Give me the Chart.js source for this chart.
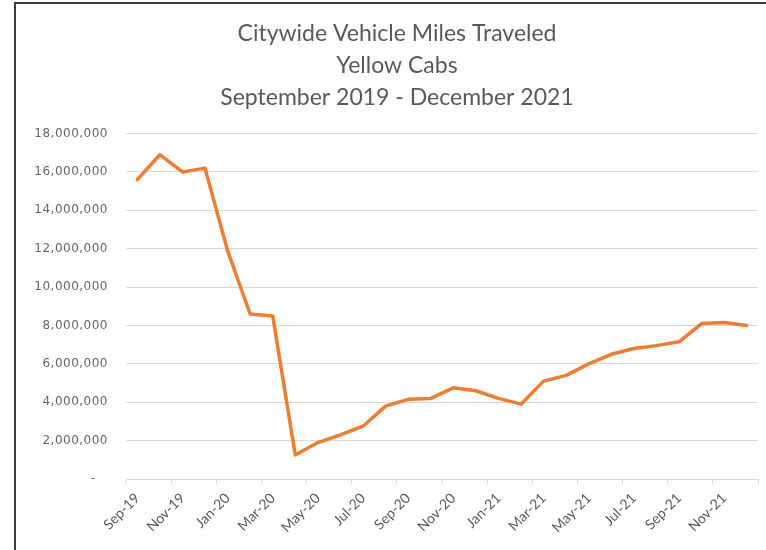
<!DOCTYPE html>
<html>
<head>
<meta charset="utf-8">
<title>Citywide Vehicle Miles Traveled - Yellow Cabs</title>
<script src="https://cdn.jsdelivr.net/npm/chart.js@4"></script>
<style>
    html, body { margin: 0; padding: 0; background: #fff; }
    #frame {
        position: absolute; left: 14px; top: 2px; width: 800px; height: 600px;
        border-left: 2px solid #3c3c3c; border-top: 2px solid #3c3c3c;
    }
    #vmtChart { position: absolute; left: 0; top: 0; }
</style>
</head>
<body>
<div id="frame"></div>
<canvas id="vmtChart" width="766" height="550"></canvas>
<script>
// Monthly vehicle miles traveled, yellow cabs, Sep 2019 - Dec 2021
const months = [
    'Sep-19', 'Oct-19', 'Nov-19', 'Dec-19',
    'Jan-20', 'Feb-20', 'Mar-20', 'Apr-20', 'May-20', 'Jun-20',
    'Jul-20', 'Aug-20', 'Sep-20', 'Oct-20', 'Nov-20', 'Dec-20',
    'Jan-21', 'Feb-21', 'Mar-21', 'Apr-21', 'May-21', 'Jun-21',
    'Jul-21', 'Aug-21', 'Sep-21', 'Oct-21', 'Nov-21', 'Dec-21'
];
const milesTraveled = [
    15600000, 16900000, 16000000, 16200000,
    11900000, 8600000, 8500000, 1250000, 1900000, 2300000,
    2750000, 3800000, 4150000, 4200000, 4750000, 4600000,
    4200000, 3900000, 5100000, 5400000, 6000000, 6500000,
    6800000, 6950000, 7150000, 8100000, 8150000, 8000000
];
const titleLines = [
    'Citywide Vehicle Miles Traveled',
    'Yellow Cabs',
    'September 2019 - December 2021'
];
const yMax = 18000000;
const yStep = 2000000;

(function () {
    const gray = '#595959';
    const gridGray = '#d9d9d9';

    // Accounting style: thousands separators, zero shown as a dash
    function formatMiles(v) {
        if (v === 0) return '- \u2007';
        return Number(v).toLocaleString('en-US');
    }

    // y labels are drawn after the line (ticks.z = 1) so only they get the wider spacing
    const spacedLabels = {
        id: 'spacedLabels',
        afterDatasetsDraw(chart) { chart.ctx.letterSpacing = '0.5px'; },
        afterDraw(chart) { chart.ctx.letterSpacing = '0px'; }
    };

    const ctx = document.getElementById('vmtChart').getContext('2d');

    new Chart(ctx, {
        type: 'line',
        data: {
            labels: months,
            datasets: [{
                data: milesTraveled,
                borderColor: '#ED7D31',
                borderWidth: 3.5,
                borderJoinStyle: 'round',
                borderCapStyle: 'round',
                pointRadius: 0,
                tension: 0,
                fill: false
            }]
        },
        plugins: [spacedLabels],
        options: {
            responsive: false,
            animation: false,
            // uneven side padding keeps the title centred over the frame
            layout: { padding: { left: 28, right: 0, top: 0, bottom: 0 } },
            plugins: {
                legend: { display: false },
                tooltip: { enabled: false },
                title: {
                    display: true,
                    text: titleLines,
                    color: gray,
                    font: { family: 'Lato', size: 23, weight: 'normal', lineHeight: 1.4 },
                    padding: { top: 17, bottom: 20 }
                }
            },
            scales: {
                x: {
                    offset: true,
                    grid: {
                        offset: true,
                        drawOnChartArea: false,
                        drawTicks: true,
                        tickLength: 5,
                        // tick marks only every second month, plus the closing one
                        tickColor: c => (c.index === undefined || c.index % 2 === 0) ? gridGray : 'rgba(0,0,0,0)'
                    },
                    border: { color: gridGray, width: 1 },
                    ticks: {
                        autoSkip: false,
                        minRotation: 45,
                        maxRotation: 45,
                        color: gray,
                        font: { family: 'Lato', size: 14 },
                        padding: 6,
                        callback: function (val, idx) {
                            return idx % 2 === 0 ? this.getLabelForValue(val) : '';
                        }
                    },
                    afterFit: scale => {
                        scale.height = 71;
                        scale.paddingRight = 8;
                    }
                },
                y: {
                    min: 0,
                    max: yMax,
                    grid: { color: gridGray, lineWidth: 1, drawTicks: false },
                    border: { display: false },
                    ticks: {
                        z: 1,
                        stepSize: yStep,
                        color: '#666',
                        font: { family: "'DejaVu Sans', Verdana, sans-serif", size: 12 },
                        padding: 18,
                        callback: v => formatMiles(v)
                    },
                    afterFit: scale => { scale.width = 98; }
                }
            }
        }
    });
})();
</script>
</body>
</html>
